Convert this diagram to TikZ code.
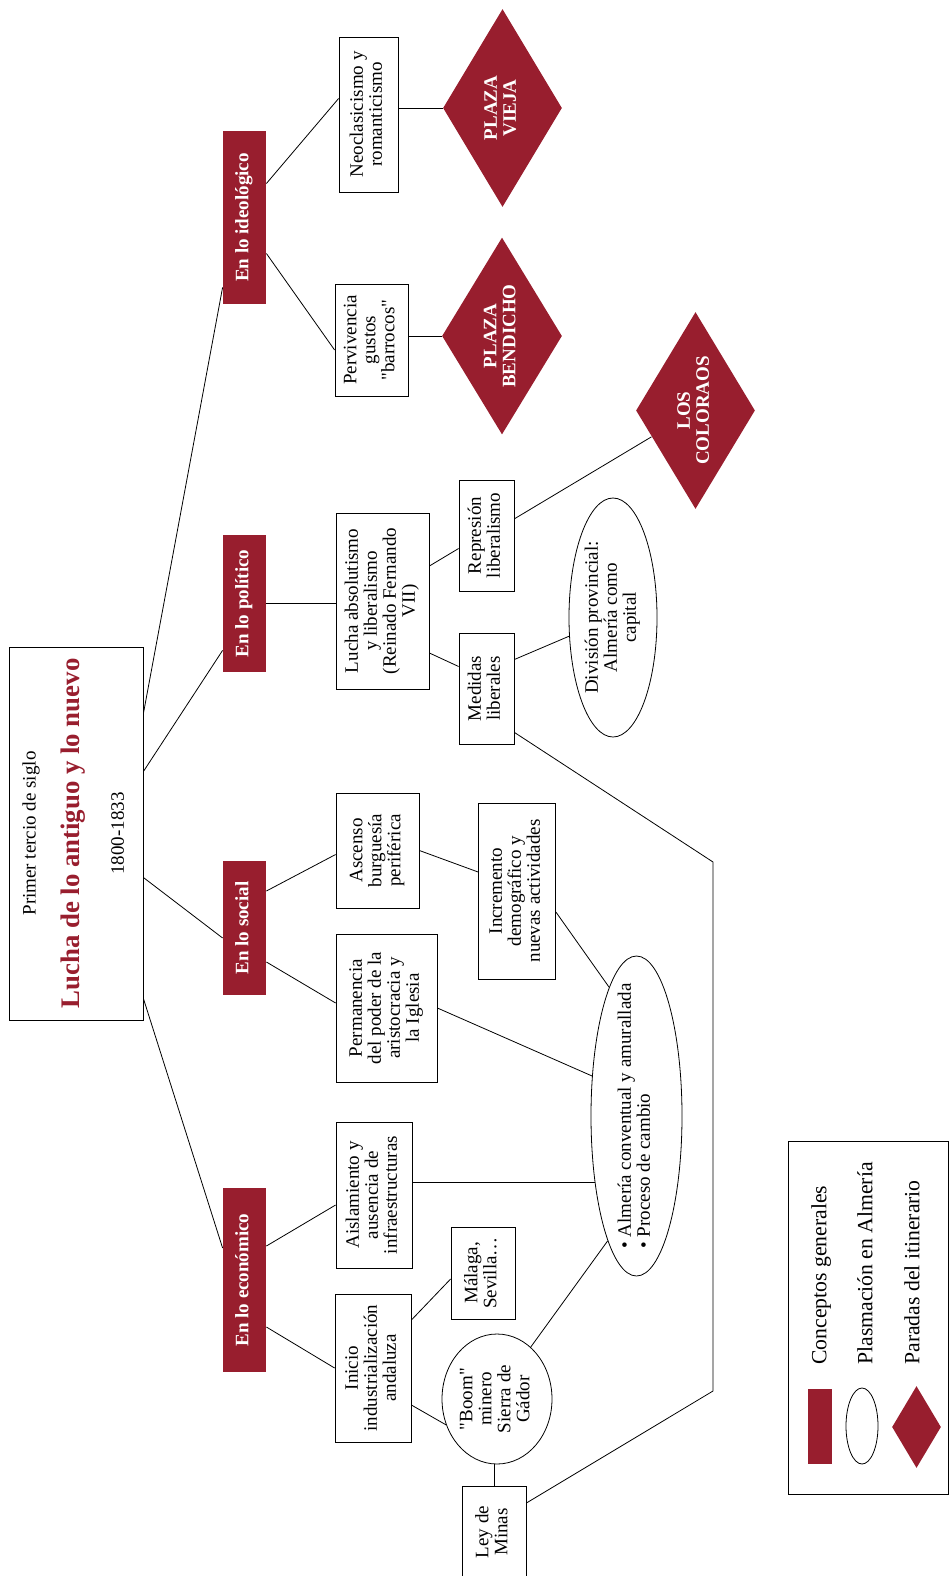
\documentclass[tikz,border=0pt]{standalone}
\usepackage{fontspec}
\setmainfont{Liberation Serif}
\usepackage{graphicx}
\usetikzlibrary{shapes.geometric}

\definecolor{granate}{RGB}{152,30,46}
% vertical text, read from bottom to top
\newcommand{\vtxt}[2][c]{\rotatebox{90}{\begin{tabular}{@{}#1@{}}#2\end{tabular}}}

\begin{document}
\begin{tikzpicture}[x=1pt, y=-1pt, line width=0.8pt,
  every node/.style={inner sep=0pt, font=\fontsize{19}{19}\selectfont},
  concepto/.style={rectangle, fill=granate, text=white, minimum width=43pt, font=\fontsize{19}{19}\selectfont\bfseries},
  caja/.style={draw, rectangle, fill=white},
  plasma/.style={draw, ellipse},
  parada/.style={diamond, shape aspect=0.6, fill=granate, text=white, font=\fontsize{19}{19}\selectfont\bfseries}]

\useasboundingbox (0,0) rectangle (950,1576);
\clip (0,0) rectangle (950,1576);

% Main title
\node (main) [caja, minimum width=134pt, minimum height=373pt] at (76,833.5) {\vtxt{Primer tercio de siglo\\[20pt] {\fontsize{26.8}{27}\selectfont\bfseries\color{granate}Lucha de lo antiguo y lo nuevo}\\[25pt] 1800-1833}};

% General concepts
\node (ideo) [concepto, minimum height=173pt] at (244.5,217.5) {\vtxt{En lo ideológico}};
\node (pol) [concepto, minimum height=137pt] at (244.5,603.5) {\vtxt{En lo político}};
\node (soc) [concepto, minimum height=134pt] at (244.5,928) {\vtxt{En lo social}};
\node (eco) [concepto, minimum height=184pt] at (244.5,1280) {\vtxt{En lo económico}};

% Ideological
\node (neo) [caja, minimum width=59pt, minimum height=155pt] at (368.5,114.5) {\vtxt{Neoclasicismo y\\romanticismo}};
\node (perv) [caja, minimum width=73pt, minimum height=112pt] at (371.5,340) {\vtxt{Pervivencia\\gustos\\\textquotedbl barrocos\textquotedbl}};
\node (vieja) [parada, minimum width=119pt, minimum height=198pt] at (502.5,108) {\vtxt{PLAZA\\VIEJA}};
\node (bendicho) [parada, minimum width=120pt, minimum height=197pt] at (502,336) {\vtxt{PLAZA\\BENDICHO}};

% Political
\node (lucha) [caja, minimum width=93pt, minimum height=176pt] at (382.5,601) {\vtxt{Lucha absolutismo\\y liberalismo\\(Reinado Fernando\\VII)}};
\node (rep) [caja, minimum width=55pt, minimum height=111pt] at (486.5,535.5) {\vtxt{Represión\\liberalismo}};
\node (med) [caja, minimum width=55pt, minimum height=111pt] at (486.5,688.5) {\vtxt{Medidas\\liberales}};
\node (div) [plasma, minimum width=88pt, minimum height=239pt] at (613,617.5) {\vtxt{División provincial:\\Almería como\\capital}};
\node (coloraos) [parada, minimum width=119pt, minimum height=197pt] at (695.5,410.5) {\vtxt{LOS\\COLORAOS}};

% Social
\node (asc) [caja, minimum width=83pt, minimum height=115pt] at (377.5,850.5) {\vtxt{Ascenso\\burguesía\\periférica}};
\node (perm) [caja, minimum width=101pt, minimum height=148pt] at (386.5,1008) {\vtxt{Permanencia\\del poder de la\\aristocracia y\\la Iglesia}};
\node (inc) [caja, minimum width=77pt, minimum height=176pt] at (517,891) {\vtxt{Incremento\\demográfico y\\nuevas actividades}};
\node (alm) [plasma, minimum width=91pt, minimum height=320pt, inner sep=-30pt] at (636.5,1116) {\vtxt[l]{\textbullet\ Almería conventual y amurallada\\\textbullet\ Proceso de cambio}};

% Economic
\node (aisl) [caja, minimum width=76pt, minimum height=146pt] at (374,1195) {\vtxt{Aislamiento y\\ausencia de\\infraestructuras}};
\node (ini) [caja, minimum width=76pt, minimum height=148pt] at (373,1368) {\vtxt{Inicio\\industrialización\\andaluza}};
\node (mal) [caja, minimum width=64pt, minimum height=92pt] at (483,1273) {\vtxt{Málaga,\\Sevilla…}};
\node (boom) [plasma, minimum width=110pt, minimum height=130pt] at (497,1399) {\vtxt{\textquotedbl Boom\textquotedbl\\minero\\Sierra de\\Gádor}};
\node (ley) [caja, minimum width=64pt, minimum height=92pt] at (494,1532) {\vtxt{Ley de\\Minas}};

% Legend
\node (leyenda) [draw, minimum width=160pt, minimum height=353pt] at (868.5,1317.5) {};
\node (lconc) [concepto, minimum width=24pt, minimum height=75pt] at (820,1426.5) {};
\node (lplas) [plasma, minimum width=32pt, minimum height=76pt] at (862,1426) {};
\node (lpar) [parada, minimum width=49pt, minimum height=82pt] at (916.5,1427) {};
\node (tconc) [anchor=south, font=\fontsize{21.7}{22}\selectfont] at (822,1365) {\vtxt{Conceptos generales}};
\node (tplas) [anchor=south, font=\fontsize{21.7}{22}\selectfont] at (868,1365) {\vtxt{Plasmación en Almería}};
\node (tpar) [anchor=south, font=\fontsize{21.7}{22}\selectfont] at (915,1365) {\vtxt{Paradas del itinerario}};

% Connectors
\draw ([yshift=120pt]main.east) -- ([yshift=17pt]ideo.south west);
\draw ([yshift=62pt]main.east) -- ([yshift=22pt]pol.south west);
\draw ([yshift=-44pt]main.east) -- ([yshift=-10pt]soc.west);
\draw ([yshift=-165pt]main.east) -- ([yshift=32pt]eco.west);

\draw ([yshift=34pt]ideo.east) -- ([yshift=16pt]neo.west);
\draw ([yshift=-36pt]ideo.east) -- ([yshift=-10pt]perv.west);
\draw (vieja.west) -- (vieja.west -| neo.east);
\draw (bendicho.west) -- (bendicho.west -| perv.east);

\draw (pol.east) -- (pol.east -| lucha.west);
\draw ([yshift=35pt]lucha.east) -- ([yshift=-13pt]rep.west);
\draw ([yshift=-52pt]lucha.east) -- ([yshift=22pt]med.west);
\draw ([yshift=29pt]med.east) -- (div);
\draw (rep) -- (coloraos);
\draw ([yshift=12pt]med.south east) -- (713,862) -- (713,1391) -- ([yshift=29pt]ley.east);

\draw ([yshift=37pt]soc.east) -- ([yshift=-4pt]asc.west);
\draw ([yshift=-34pt]soc.east) -- ([yshift=5pt]perm.west);
\draw (asc.east) -- ([yshift=19pt]inc.west);
\draw ([yshift=-21pt]inc.east) -- (alm.102);
\draw (perm.east) -- (alm.138);

\draw ([yshift=34pt]eco.east) -- ([yshift=-10pt]aisl.west);
\draw ([yshift=-47pt]eco.east) -- (ini.west);
\draw (alm.238) -- (alm.238 -| aisl.east);
\draw ([yshift=48pt]ini.east) -- ([yshift=-6pt]mal.west);
\draw ([yshift=-37pt]ini.east) -- (boom.207);
\draw (boom.57) -- (alm.257);
\draw (ley.north) -- (ley.north |- boom.south);

\end{tikzpicture}
\end{document}
